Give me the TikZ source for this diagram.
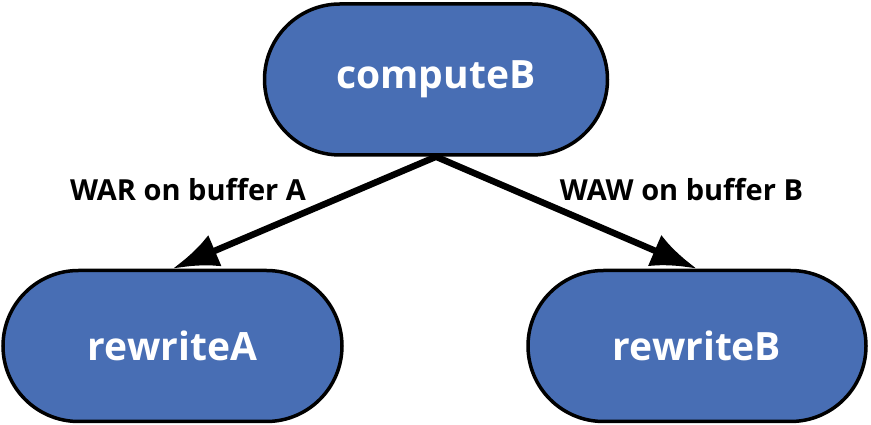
\documentclass[tikz,border=0pt]{standalone}
\usepackage{fontspec}
\setmainfont{Open Sans}
\usetikzlibrary{shapes.misc,arrows.meta}

\definecolor{taskblue}{RGB}{72,110,180}
\tikzset{
  taskbox/.style={draw=black, line width=3.5pt, fill=taskblue, rounded rectangle,
    text=white, font=\fontsize{39}{47}\selectfont\bfseries,
    minimum height=151pt, inner sep=0pt},
  depedge/.style={line width=6.5pt, -{Latex[length=46pt,width=34pt]}},
  deplabel/.style={font=\fontsize{29}{35}\selectfont\bfseries, anchor=base}
}

\begin{document}
\begin{tikzpicture}[x=1pt,y=1pt]
        \useasboundingbox (0,0) rectangle (871,425);
        \node[taskbox, minimum width=343pt] (computeB) at (436,345.5) {computeB};
        \node[taskbox, minimum width=339pt] (rewriteA) at (172.5,79) {rewriteA};
        \node[taskbox, minimum width=338pt] (rewriteB) at (697,79) {rewriteB};
        \draw[depedge] (computeB.south) -- (rewriteA.north);
        \draw[depedge] (computeB.south) -- (rewriteB.north);
        \node[deplabel] (warA) at (188,224) {WAR on buffer A};
        \node[deplabel] (wawB) at (681.5,224) {WAW on buffer B};
    \end{tikzpicture}
\end{document}
